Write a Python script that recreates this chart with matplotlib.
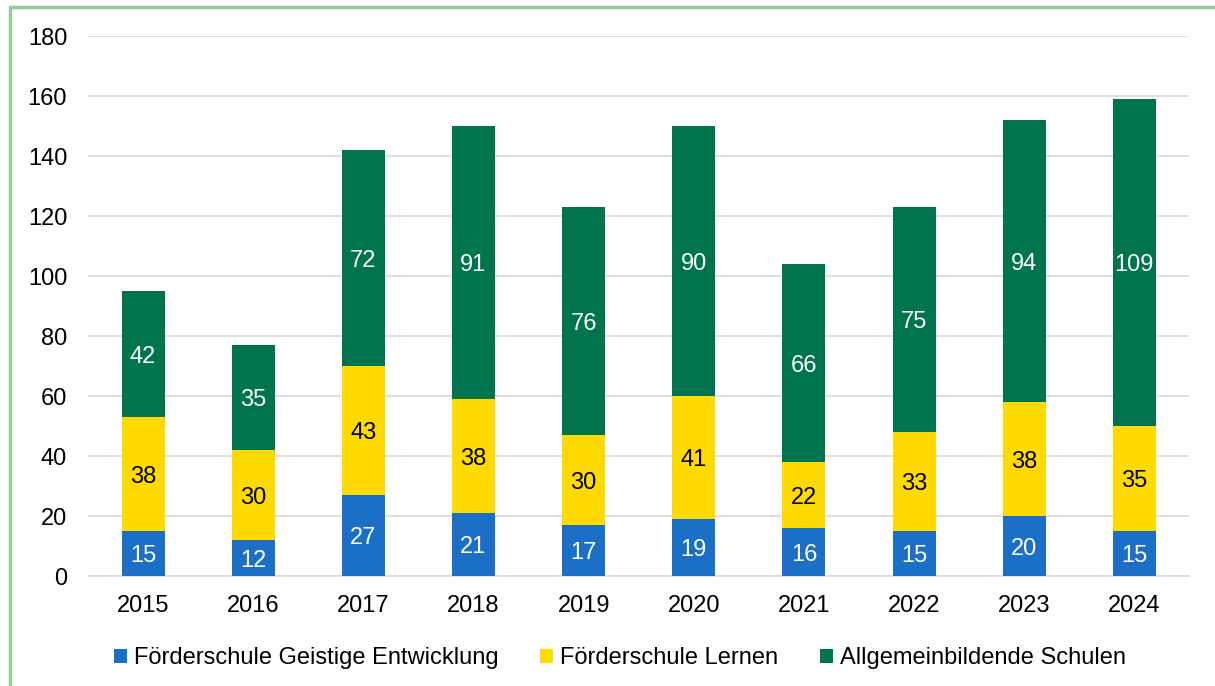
import numpy as np
import matplotlib.pyplot as plt
from matplotlib.patches import Rectangle

plt.rcParams['font.family'] = ['Liberation Sans', 'DejaVu Sans']

# Daten
jahre = ['2015', '2016', '2017', '2018', '2019', '2020', '2021', '2022', '2023', '2024']
geistig = [15, 12, 27, 21, 17, 19, 16, 15, 20, 15]
lernen = [38, 30, 43, 38, 30, 41, 22, 33, 38, 35]
allgemein = [42, 35, 72, 91, 76, 90, 66, 75, 94, 109]

namen = ['Förderschule Geistige Entwicklung', 'Förderschule Lernen', 'Allgemeinbildende Schulen']
farben = ['#1B6FC6', '#FFDA00', '#00734F']
textfarben = ['white', 'black', 'white']

fs = 17

fig = plt.figure(figsize=(12.15, 6.86), dpi=100)
ax = fig.add_axes([0.0724, 0.1603, 0.9066, 0.7872])

x = np.arange(len(jahre))
unten = np.zeros(len(jahre))
for werte, name, farbe, tf in zip([geistig, lernen, allgemein], namen, farben, textfarben):
    ax.bar(x, werte, 0.39, bottom=unten, color=farbe, label=name, zorder=3)
    # Werte in der Mitte der Segmente
    for xi, b, v in zip(x, unten, werte):
        ax.text(xi, b + v / 2, str(v), ha='center', va='center_baseline',
                color=tf, fontsize=fs, zorder=4)
    unten += np.array(werte)

ax.set_xlim(-0.5, len(jahre) - 0.5)
ax.set_ylim(0, 180)
ax.set_yticks(range(0, 181, 20))
ax.set_xticks(x)
ax.set_xticklabels(jahre)
ax.tick_params(length=0, labelsize=fs, colors='black')
ax.tick_params(axis='y', pad=15)
ax.tick_params(axis='x', pad=14)
ax.grid(axis='y', color='#D9D9D9', linewidth=1.2, zorder=0)
for s in ['top', 'right', 'left']:
    ax.spines[s].set_visible(False)
ax.spines['bottom'].set_color('#D9D9D9')
ax.spines['bottom'].set_linewidth(1.2)

ax.legend(loc='center', bbox_to_anchor=(0.483, -0.152), ncol=3, frameon=False,
          fontsize=fs, handlelength=0.55, handleheight=0.55, handletextpad=0.3,
          columnspacing=1.75)

# grüner Rahmen
fig.add_artist(Rectangle((9.5 / 1215, -0.05), 1.1, 1 - 7 / 686 + 0.05,
                         transform=fig.transFigure, fill=False,
                         edgecolor='#92CD97', linewidth=2.5))

fig.savefig('out.png', dpi=100)
